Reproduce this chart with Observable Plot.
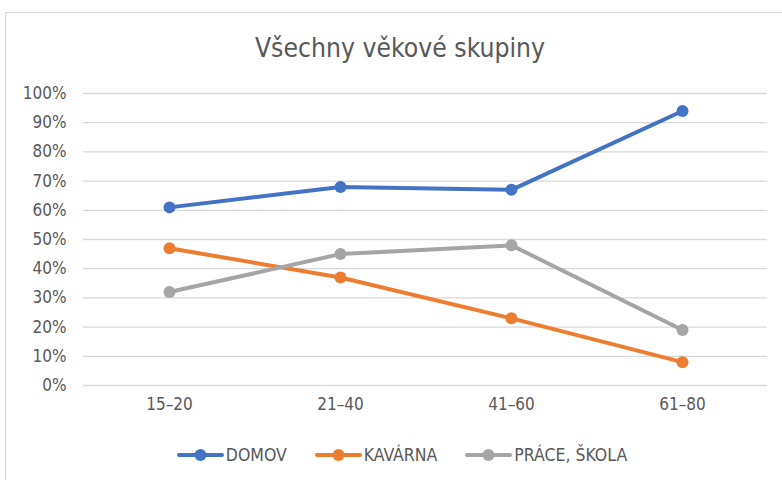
<!DOCTYPE html>
<html>
<head>
<meta charset="utf-8">
<script src="https://cdn.jsdelivr.net/npm/d3@7"></script>
<script src="https://cdn.jsdelivr.net/npm/@observablehq/plot@0.6"></script>
<style>
  html, body { margin: 0; padding: 0; background: #fff; width: 782px; height: 480px; overflow: hidden; }
  body { font-family: "Liberation Sans Narrow", "DejaVu Sans Condensed", "Open Sans", sans-serif; color: #595959; position: relative; }
  #frame { position: absolute; left: 5px; top: 12px; width: 790px; height: 480px; border: 1.5px solid #d9d9d9; box-sizing: border-box; }
  #title { position: absolute; left: 5px; width: 790px; top: 31px; text-align: center; font-size: 26.3px; line-height: 34px; color: #595959; font-family: "Liberation Sans Narrow", "DejaVu Sans Condensed", sans-serif; }
  #chart { position: absolute; left: 0; top: 70px; }
  #legend { position: absolute; top: 444px; left: 0; width: 804px; display: flex; justify-content: center; gap: 28px; font-size: 17.5px; line-height: 22px; }
  .item { display: flex; align-items: center; gap: 2px; }
</style>
</head>
<body>
<div id="frame"></div>
<div id="title">Všechny věkové skupiny</div>
<div id="chart"></div>
<div id="legend"></div>
<script>
const categories = ["15–20", "21–40", "41–60", "61–80"];
const seriesNames = ["DOMOV", "KAVÁRNA", "PRÁCE, ŠKOLA"];
const domov = [0.61, 0.68, 0.67, 0.94];
const kavarna = [0.47, 0.37, 0.23, 0.08];
const prace = [0.32, 0.45, 0.48, 0.19];
const yTicks = [0, 0.1, 0.2, 0.3, 0.4, 0.5, 0.6, 0.7, 0.8, 0.9, 1.0];
const colors = ["#4472C4", "#ED7D31", "#A5A5A5"];

const seriesValues = [domov, kavarna, prace];
const rows = [];
seriesNames.forEach((s, i) => {
  categories.forEach((c, j) => rows.push({series: s, cat: c, value: seriesValues[i][j]}));
});

const plot = Plot.plot({
  width: 782,
  height: 350,
  marginLeft: 83,
  marginRight: 15,
  marginTop: 23,
  marginBottom: 35,
  style: {fontFamily: '"Liberation Sans Narrow", "DejaVu Sans Condensed", sans-serif', fontSize: "17px", color: "#595959", background: "transparent"},
  x: {type: "point", domain: categories, padding: 0.5, label: null},
  y: {domain: [0, 1], label: null},
  color: {domain: seriesNames, range: colors},
  marks: [
    Plot.gridY(yTicks, {stroke: "#d9d9d9", strokeOpacity: 1, strokeWidth: 1.3}),
    Plot.axisY(yTicks, {tickSize: 0, tickPadding: 17, tickFormat: d3.format(".0%"), fontSize: 17, label: null}),
    Plot.axisX({tickSize: 0, tickPadding: 12, fontSize: 17, label: null}),
    Plot.line(rows, {x: "cat", y: "value", z: "series", stroke: "series", strokeWidth: 4, strokeLinecap: "round", strokeLinejoin: "round"}),
    Plot.dot(rows, {x: "cat", y: "value", fill: "series", r: 6, stroke: "none"})
  ]
});
document.getElementById("chart").appendChild(plot);

const legend = document.getElementById("legend");
seriesNames.forEach((s, i) => {
  const item = document.createElement("div");
  item.className = "item";
  item.innerHTML = `<svg width="47" height="14"><line x1="2" y1="7" x2="45" y2="7" stroke="${colors[i]}" stroke-width="4" stroke-linecap="round"/><circle cx="23.5" cy="7" r="6" fill="${colors[i]}"/></svg><span>${s}</span>`;
  legend.appendChild(item);
});
</script>
</body>
</html>
